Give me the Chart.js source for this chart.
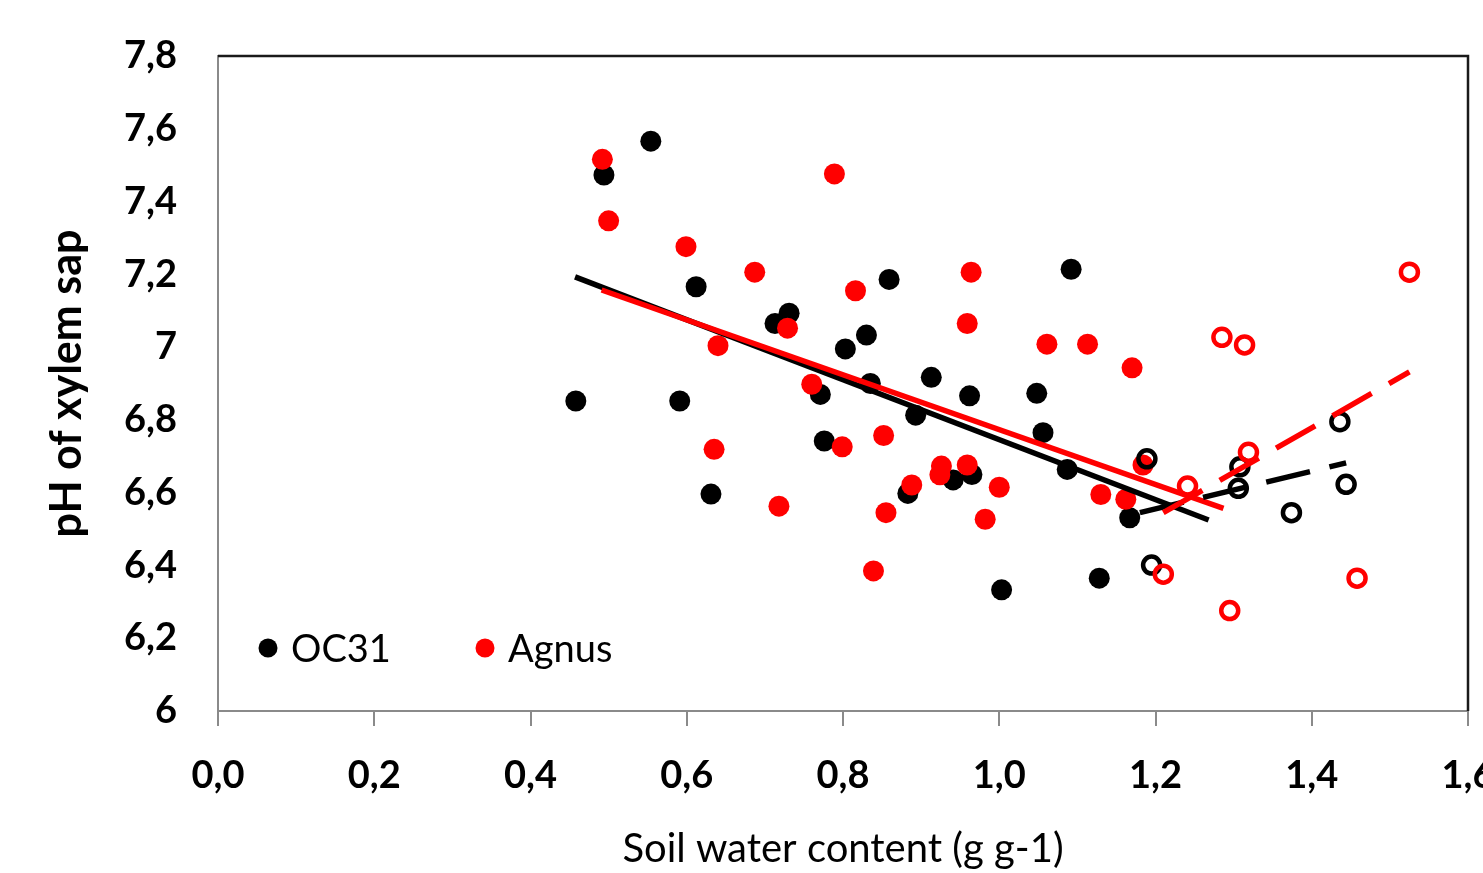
<!DOCTYPE html>
<html>
<head>
<meta charset="utf-8">
<title>pH of xylem sap vs soil water content</title>
<script src="https://cdn.jsdelivr.net/npm/chart.js@4/dist/chart.umd.min.js"></script>
<style>
  html, body { margin: 0; padding: 0; background: #fff; }
  #wrap { width: 1483px; height: 873px; }
</style>
</head>
<body>
<div id="wrap"><canvas id="phChart" width="1483" height="873"></canvas></div>
<script>
// OC31, filled markers
const oc31X = [0.494, 0.554, 0.612, 0.713, 0.731, 0.859, 1.092, 0.830, 0.803, 0.913,
               0.962, 1.048, 0.771, 0.835, 0.893, 1.056, 0.776, 0.458, 0.591, 0.631,
               0.883, 0.941, 0.965, 1.087, 1.167, 1.128, 1.003];
const oc31Y = [7.473, 7.566, 7.166, 7.065, 7.093, 7.186, 7.214, 7.033, 6.995, 6.917,
               6.866, 6.873, 6.870, 6.900, 6.813, 6.765, 6.742, 6.852, 6.852, 6.596,
               6.598, 6.635, 6.650, 6.664, 6.531, 6.365, 6.333];

// Agnus, filled markers
const agnusX = [0.492, 0.500, 0.599, 0.687, 0.789, 0.816, 0.964, 0.959, 1.061, 1.113,
                0.729, 0.640, 0.760, 1.170, 0.799, 0.852, 0.635, 0.718, 0.855, 0.888,
                0.926, 0.924, 0.959, 1.000, 0.982, 1.130, 1.162, 0.839, 1.184];
const agnusY = [7.516, 7.347, 7.276, 7.206, 7.476, 7.155, 7.206, 7.065, 7.008, 7.008,
                7.052, 7.004, 6.898, 6.943, 6.726, 6.757, 6.719, 6.563, 6.545, 6.621,
                6.673, 6.649, 6.676, 6.615, 6.527, 6.595, 6.582, 6.385, 6.676];

// wettest soils, open markers
const oc31WetX = [1.189, 1.308, 1.306, 1.436, 1.444, 1.374, 1.195];
const oc31WetY = [6.693, 6.671, 6.612, 6.795, 6.623, 6.545, 6.401];
const agnusWetX = [1.525, 1.285, 1.314, 1.319, 1.241, 1.210, 1.458, 1.295];
const agnusWetY = [7.206, 7.027, 7.006, 6.711, 6.618, 6.376, 6.365, 6.276];

// fitted lines (end points)
const oc31FitX = [0.457, 1.268];
const oc31FitY = [7.193, 6.525];
const agnusFitX = [0.491, 1.287];
const agnusFitY = [7.157, 6.557];
const oc31WetFitX = [1.180, 1.444];
const oc31WetFitY = [6.545, 6.682];
const agnusWetFitX = [1.210, 1.525];
const agnusWetFitY = [6.545, 6.932];

const xTicks = [0, 0.2, 0.4, 0.6, 0.8, 1.0, 1.2, 1.4, 1.6];
const seriesNames = ['OC31', 'Agnus'];

const BLACK = '#000000';
const RED = '#ff0000';
const AXIS = '#8a8a8a';
const FONT = 'Lato, "Open Sans", sans-serif';

const pts = (xs, ys) => xs.map((x, i) => ({ x: x, y: ys[i] }));

// box on the top and right of the plot
const framePlugin = {
  id: 'frame',
  beforeDatasetsDraw(chart) {
    const { ctx, chartArea: a } = chart;
    ctx.save();
    ctx.strokeStyle = '#1a1a1a';
    ctx.lineWidth = 2.5;
    ctx.beginPath();
    ctx.moveTo(a.left, a.top);
    ctx.lineTo(a.right, a.top);
    ctx.lineTo(a.right, a.bottom);
    ctx.stroke();
    ctx.restore();
  }
};

// legend sits inside the plot, bottom left
const insideLegend = {
  id: 'insideLegend',
  afterDraw(chart) {
    const { ctx, chartArea: a } = chart;
    const y = a.bottom - 63;
    const items = [
      { name: seriesNames[0], color: BLACK, x: a.left + 50 },
      { name: seriesNames[1], color: RED, x: a.left + 267 }
    ];
    ctx.save();
    ctx.font = '38px ' + FONT;
    ctx.textBaseline = 'middle';
    ctx.textAlign = 'left';
    items.forEach(it => {
      ctx.fillStyle = it.color;
      ctx.beginPath();
      ctx.arc(it.x, y, 9.5, 0, Math.PI * 2);
      ctx.fill();
      ctx.fillStyle = BLACK;
      ctx.fillText(it.name, it.x + 23, y + 2);
    });
    ctx.restore();
  }
};

const filled = (label, data, color, order) => ({
  type: 'scatter', label, data, order,
  backgroundColor: color, borderWidth: 0, pointRadius: 10.5
});
const open = (label, data, color, order) => ({
  type: 'scatter', label, data, order,
  backgroundColor: 'rgba(255,255,255,0)', borderColor: color,
  borderWidth: 4.5, pointRadius: 8.5
});
const fit = (label, data, color, dash, order) => ({
  type: 'line', label, data, order,
  borderColor: color, borderWidth: 5.5, borderDash: dash,
  pointRadius: 0, fill: false, tension: 0
});

new Chart(document.getElementById('phChart'), {
  type: 'scatter',
  data: {
    datasets: [
      filled('OC31', pts(oc31X, oc31Y), BLACK, 8),
      filled('Agnus', pts(agnusX, agnusY), RED, 7),
      open('OC31 wet', pts(oc31WetX, oc31WetY), BLACK, 6),
      open('Agnus wet', pts(agnusWetX, agnusWetY), RED, 5),
      fit('OC31 fit', pts(oc31FitX, oc31FitY), BLACK, [], 4),
      fit('Agnus fit', pts(agnusFitX, agnusFitY), RED, [], 3),
      fit('OC31 wet fit', pts(oc31WetFitX, oc31WetFitY), BLACK, [45, 20], 2),
      fit('Agnus wet fit', pts(agnusWetFitX, agnusWetFitY), RED, [45, 20], 1)
    ]
  },
  options: {
    responsive: false,
    animation: false,
    events: [],
    layout: { padding: { top: 56, right: 15, bottom: 0, left: 0 } },
    plugins: { legend: { display: false }, tooltip: { enabled: false } },
    scales: {
      x: {
        type: 'linear',
        min: 0, max: 1.6,
        afterBuildTicks: s => { s.ticks = xTicks.map(v => ({ value: v })); },
        afterFit: s => { s.height = 162; s.paddingRight = 0; s.paddingLeft = 0; },
        ticks: {
          color: BLACK, padding: 27,
          font: { family: FONT, size: 38, weight: 'bold' },
          callback: v => v.toFixed(1).replace('.', ',')
        },
        grid: { drawOnChartArea: false, drawTicks: true, tickLength: 15, color: AXIS, lineWidth: 2 },
        border: { display: true, color: AXIS, width: 2 },
        title: {
          display: true, text: 'Soil water content (g g-1)', color: BLACK,
          font: { family: FONT, size: 40 }, padding: { top: 1, bottom: 0 }
        }
      },
      y: {
        min: 6, max: 7.8,
        afterFit: s => { s.width = 218; },
        ticks: {
          stepSize: 0.2, color: BLACK, padding: 33,
          font: { family: FONT, size: 38, weight: 'bold' },
          callback: v => {
            const r = Math.round(v * 10) / 10;
            return Number.isInteger(r) ? String(r) : r.toFixed(1).replace('.', ',');
          }
        },
        grid: { display: false },
        border: { display: true, color: AXIS, width: 2 },
        title: {
          display: true, text: 'pH of xylem sap', color: BLACK,
          font: { family: FONT, size: 43, weight: 'bold' }, padding: { top: 41, bottom: 0 }
        }
      }
    }
  },
  plugins: [framePlugin, insideLegend]
});
</script>
</body>
</html>
